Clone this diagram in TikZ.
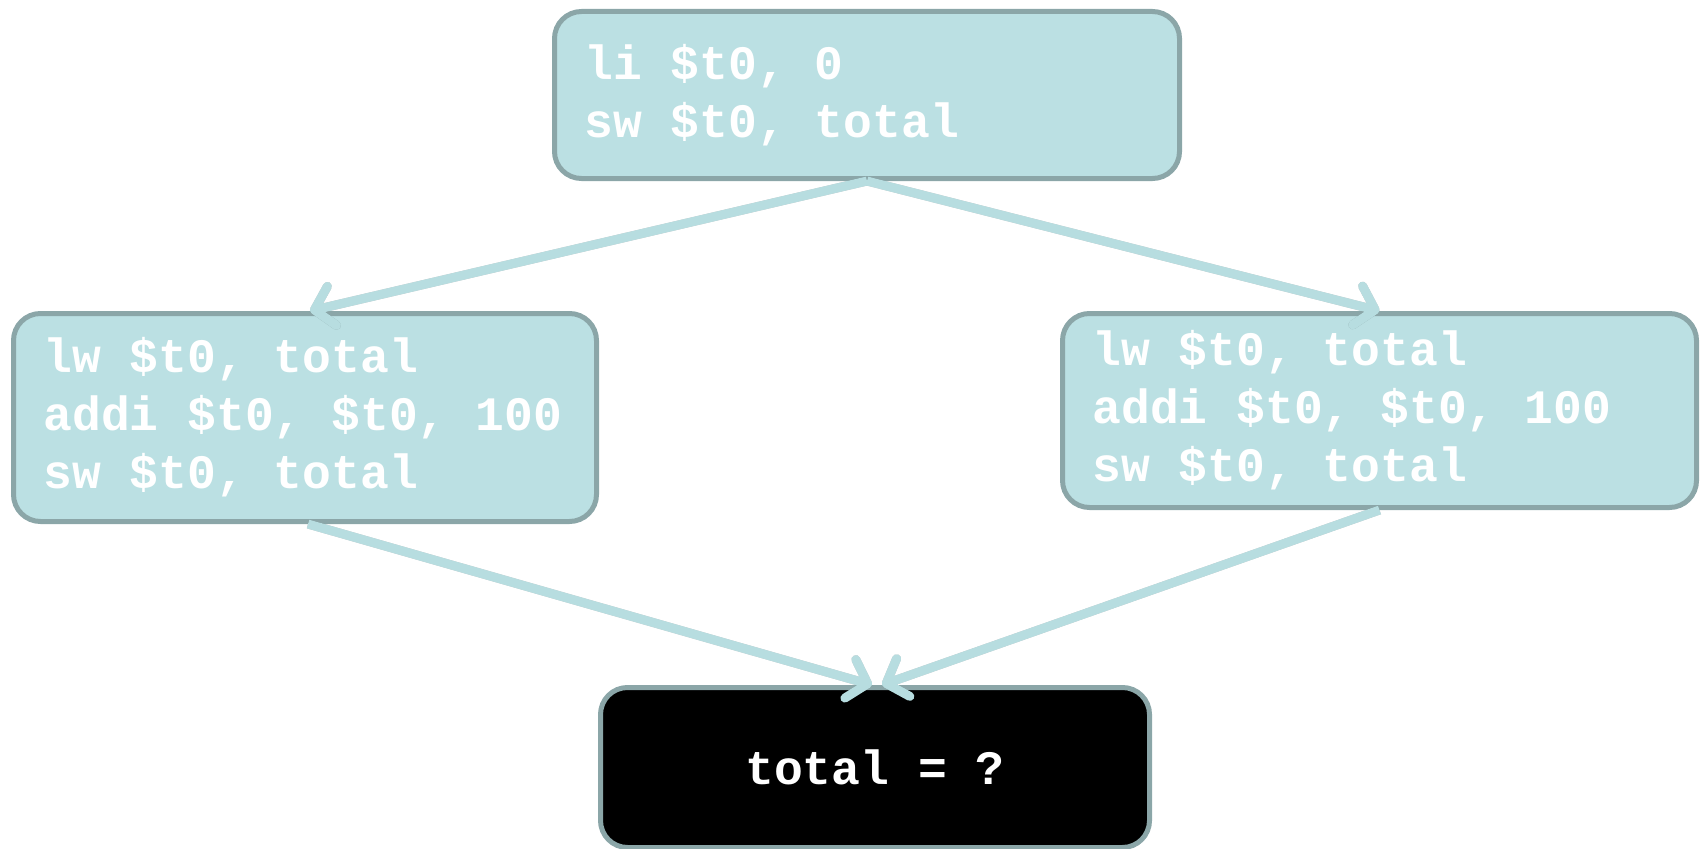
\documentclass[tikz,border=0pt]{standalone}
\usepackage{fontspec}
\setmonofont{Liberation Mono}
\usetikzlibrary{arrows.meta}
\definecolor{boxfill}{RGB}{187,224,227}
\definecolor{boxline}{RGB}{139,166,168}
\definecolor{arrowcol}{RGB}{183,221,224}
\tikzset{
  codebox/.style={draw=boxline, line width=5pt, fill=boxfill, rounded corners=27pt,
    text=white, font=\fontsize{48}{58}\selectfont\ttfamily\bfseries,
    align=left, inner xsep=30pt, inner ysep=0pt, anchor=north west,
    execute at begin node={\spaceskip=0.6em\relax\xspaceskip=0.6em\relax}},
  darkbox/.style={codebox, fill=black, align=center},
  flow/.style={arrowcol, line width=9pt, -{Straight Barb[length=18pt,width=40pt,round]}},
  flowshadow/.style={black, opacity=0.22, line width=9pt, -{Straight Barb[length=18pt,width=40pt,round]}, xshift=3pt, yshift=-5pt}
}
\begin{document}
\begin{tikzpicture}[x=1pt,y=-1pt]
\useasboundingbox (0,0) rectangle (1704,848);
\node[codebox, text width=565pt, minimum height=167pt] (top) at (552,9) {li \$t0, 0\\sw \$t0, total};
\node[codebox, text width=523pt, minimum height=208pt] (left) at (11,311) {lw \$t0, total\\addi \$t0, \$t0, 100\\sw \$t0, total};
\node[codebox, text width=574pt, minimum height=194pt] (right) at (1060,311) {lw \$t0, total\\addi \$t0, \$t0, 100\\sw \$t0, total};
\node[darkbox, text width=489pt, minimum height=160pt] (bottom) at (598,685) {total = ?};
% shadows
\draw[flowshadow] (top.south) -- ([xshift=5pt]left.north);
\draw[flowshadow] (top.south) -- (right.north);
\draw[flowshadow] ([xshift=3pt]left.south) -- ([xshift=-3pt]bottom.north);
\draw[flowshadow] (right.south) -- ([xshift=7pt]bottom.north);
% arrows
\draw[flow] (top.south) -- ([xshift=5pt]left.north);
\draw[flow] (top.south) -- (right.north);
\draw[flow] ([xshift=3pt]left.south) -- ([xshift=-3pt]bottom.north);
\draw[flow] (right.south) -- ([xshift=7pt]bottom.north);
\end{tikzpicture}
\end{document}
